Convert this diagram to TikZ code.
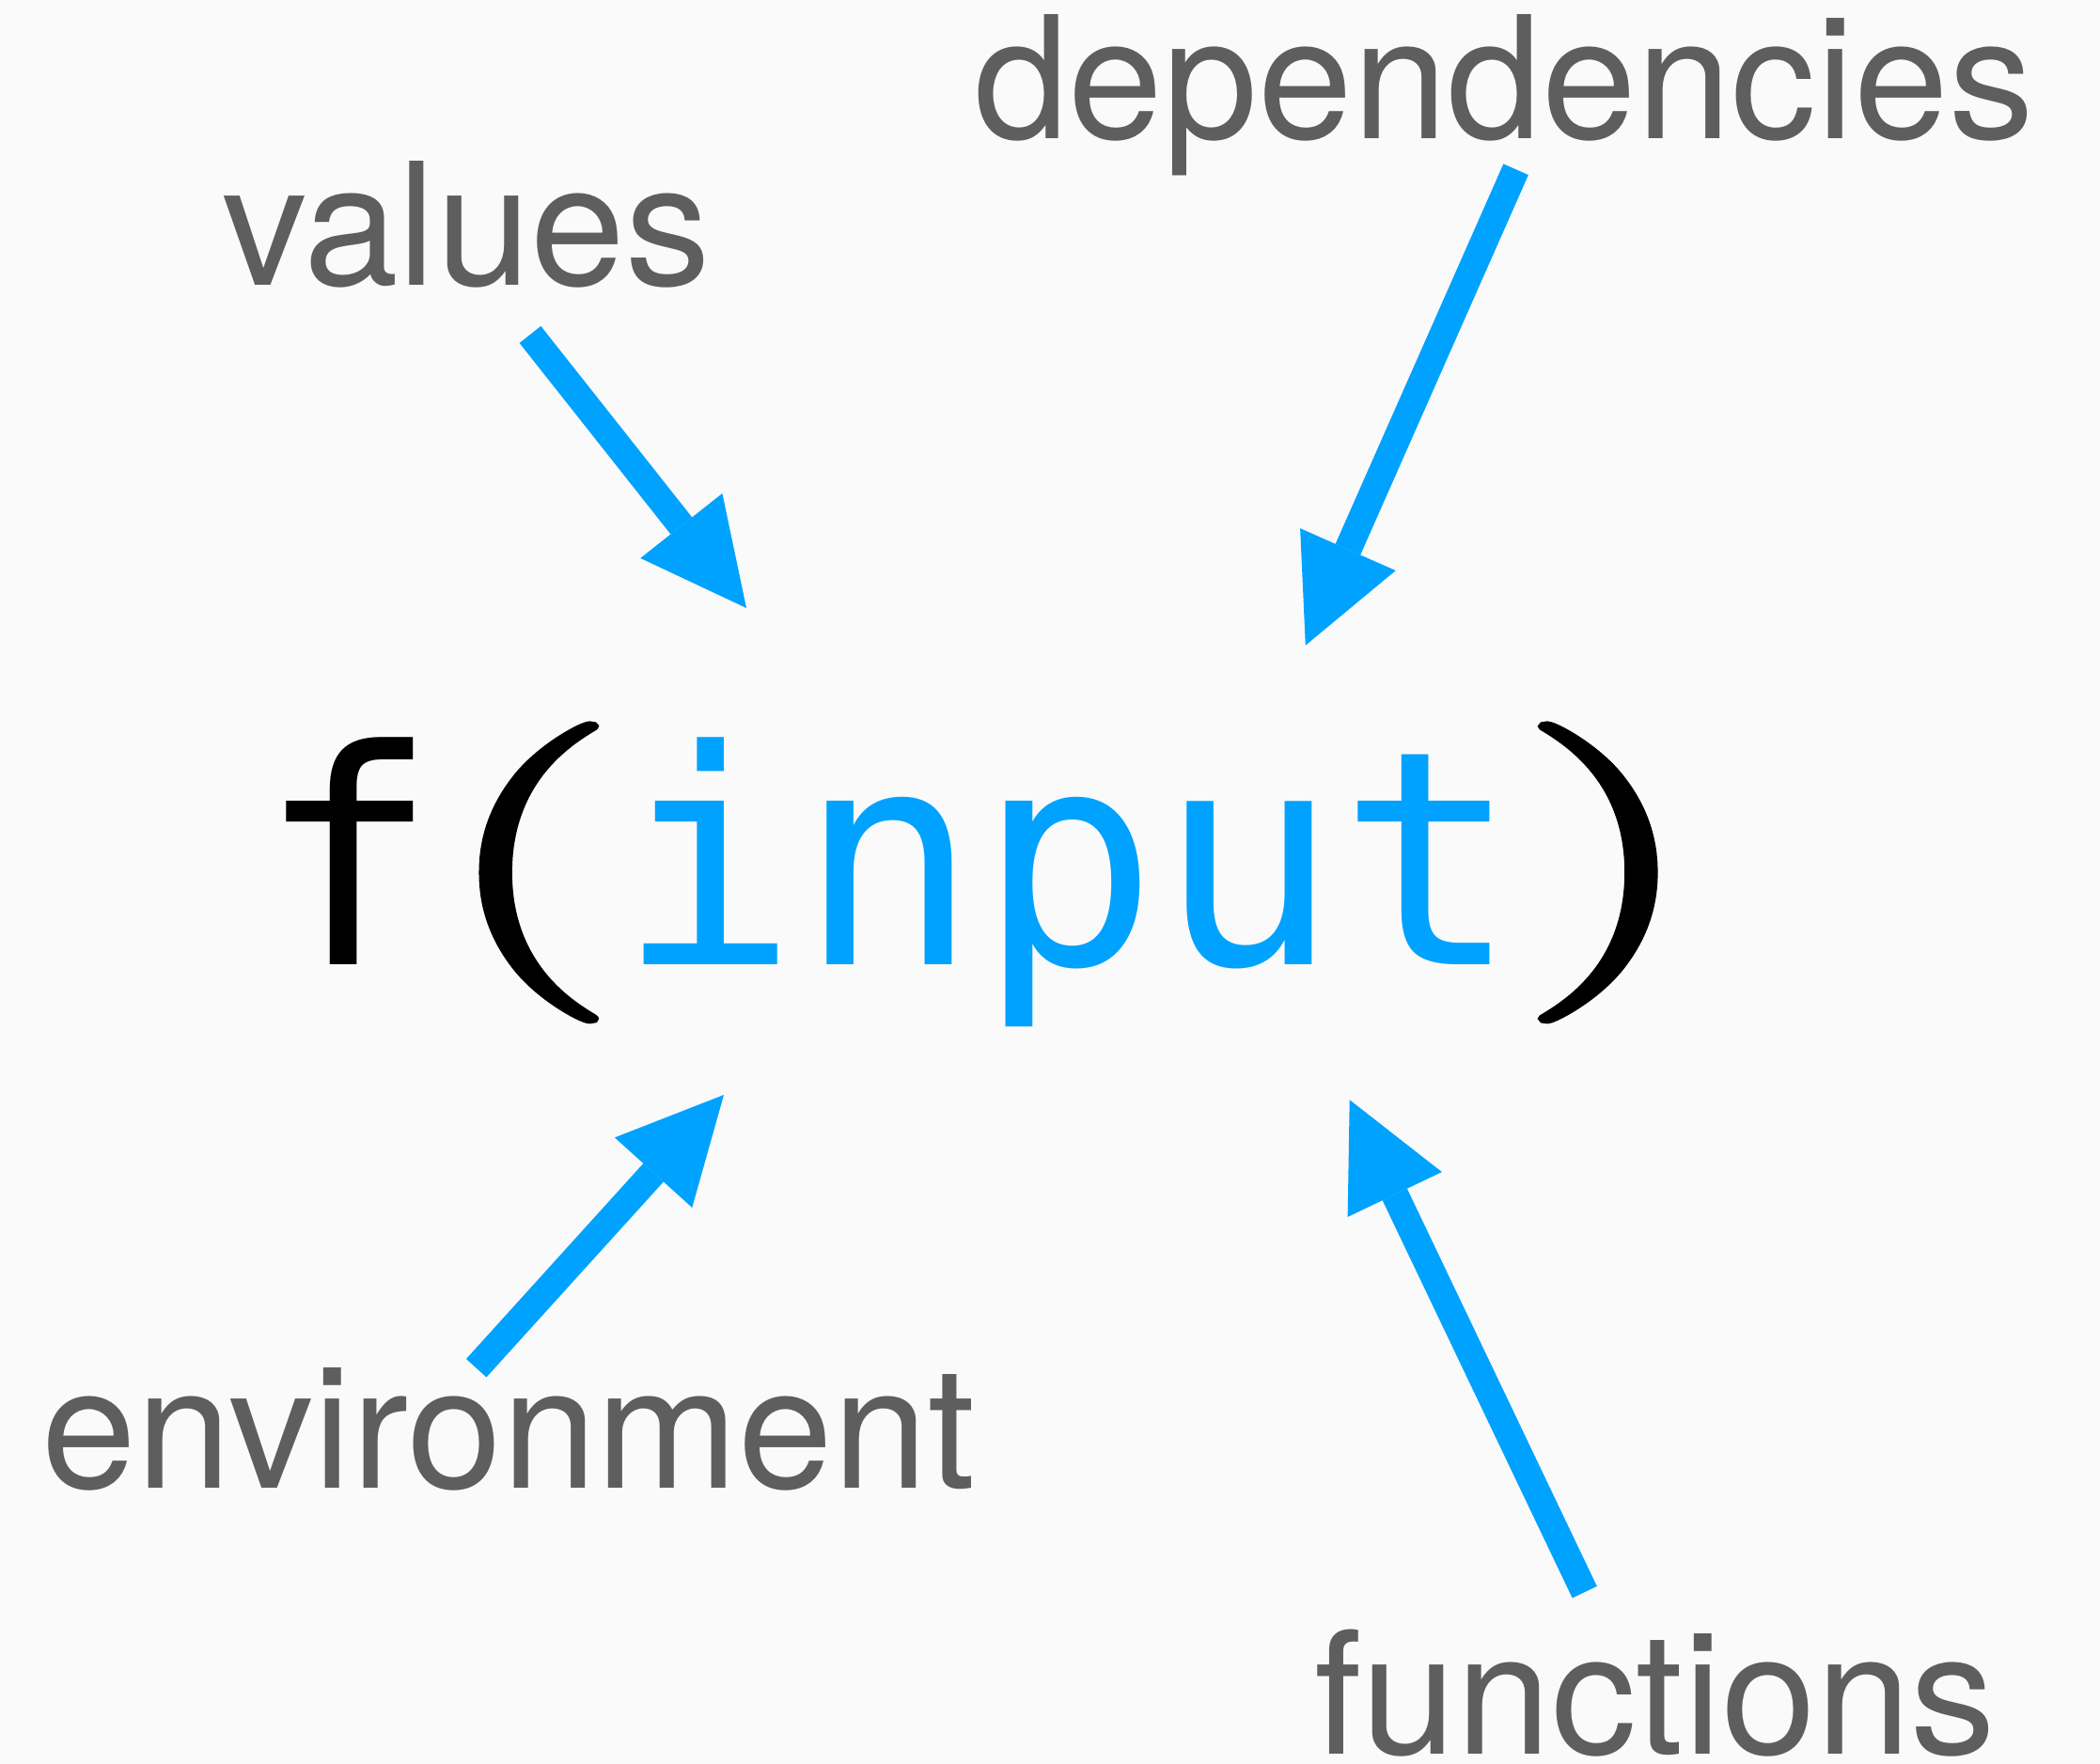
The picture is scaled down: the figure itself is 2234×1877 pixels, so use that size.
\documentclass[tikz,border=0pt]{standalone}
\usepackage{fontspec}
\setmainfont{TeX Gyre Heros}
\newfontfamily\codefont{DejaVu Sans Mono}
\newfontfamily\parenfont[FakeBold=2.2]{Latin Modern Roman}
\usetikzlibrary{arrows.meta}

\definecolor{bgpaper}{HTML}{FAFAFA}
\definecolor{labelgray}{HTML}{5E5E5E}
\definecolor{codeblue}{RGB}{0,162,255}

% a round, full-height parenthesis kept to one monospaced cell
\newcommand\codeparen[1]{%
  \makebox[0.602em][c]{\raisebox{0.2cm}{%
    \scalebox{1.7}[1]{\parenfont\fontsize{89.6pt}{100pt}\selectfont #1}}}}

\tikzset{
  label text/.style={inner sep=0pt, anchor=base, text=labelgray,
    font=\fontsize{51.5pt}{60pt}\selectfont},
  code text/.style={inner sep=0pt, anchor=base, text=black,
    font=\codefont\fontsize{90.5pt}{100pt}\selectfont},
  feed/.style={draw=codeblue, line width=0.29cm,
    -{Triangle[length=1.115cm, width=1.11cm, line width=0pt]}},
}

\begin{document}
\begin{tikzpicture}[x=0.01cm, y=-0.01cm]
  % page background
  \fill[bgpaper] (0,0) rectangle (2234,1877);
  \useasboundingbox (0,0) rectangle (2234,1877);

  % the call in the middle
  \node[code text] (call) at (1041,1027)
    {f\codeparen{(}\textcolor{codeblue}{input}\codeparen{)}};

  % the four kinds of input
  \node[label text] (values) at (496,303.5) {values};
  \node[label text] (deps)   at (1600,148) {dependencies};
  \node[label text] (env)    at (541,1583) {environment};
  \node[label text] (funcs)  at (1761,1866) {functions};

  % arrow ends
  \coordinate (values-tail) at (564,356);
  \coordinate (values-tip)  at (794,647);
  \coordinate (deps-tail)   at (1612.6,180.3);
  \coordinate (deps-tip)    at (1388.8,686.7);
  \coordinate (env-tail)    at (506.7,1455.7);
  \coordinate (env-tip)     at (770,1165);
  \coordinate (funcs-tail)  at (1685.7,1694.1);
  \coordinate (funcs-tip)   at (1435.7,1170.3);

  \draw[feed] (values-tail) -- (values-tip);
  \draw[feed] (deps-tail)   -- (deps-tip);
  \draw[feed] (env-tail)    -- (env-tip);
  \draw[feed] (funcs-tail)  -- (funcs-tip);
\end{tikzpicture}
\end{document}
